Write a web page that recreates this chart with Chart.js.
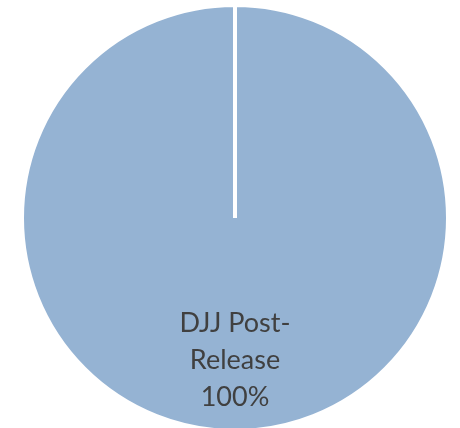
<!DOCTYPE html>
<html>
<head>
<meta charset="utf-8">
<script src="https://cdn.jsdelivr.net/npm/chart.js@4.4.0/dist/chart.umd.min.js"></script>
<style>
  html, body { margin: 0; padding: 0; background: #fff; }
  #wrap { width: 460px; height: 428px; }
</style>
</head>
<body>
<div id="wrap"><canvas id="pieChart"></canvas></div>
<script>
// dati
const categories = ["DJJ Post-Release"];
const shares = [100];
const labelLines = [["DJJ Post-", "Release", "100%"]];

// etichette dentro la fetta
const sliceLabels = {
  id: "sliceLabels",
  afterDatasetsDraw(chart) {
    const ctx = chart.ctx;
    const arcs = chart.getDatasetMeta(0).data;
    ctx.save();
    ctx.font = "27px Lato";
    ctx.fillStyle = "#404040";
    ctx.textAlign = "center";
    ctx.textBaseline = "middle";
    arcs.forEach((arc, i) => {
      const p = arc.getProps(["x", "y", "startAngle", "endAngle", "outerRadius"], true);
      const mid = (p.startAngle + p.endAngle) / 2;
      const r = p.outerRadius * 0.67;
      const cx = p.x + Math.cos(mid) * r;
      const cy = p.y + Math.sin(mid) * r;
      const lines = labelLines[i];
      const lh = 37;
      lines.forEach((t, k) => {
        ctx.fillText(t, cx, cy + (k - (lines.length - 1) / 2) * lh);
      });
    });
    ctx.restore();
  }
};

new Chart(document.getElementById("pieChart"), {
  type: "pie",
  data: {
    labels: categories,
    datasets: [{
      data: shares,
      backgroundColor: ["#95b3d3"],
      borderColor: "#ffffff",
      borderWidth: 4,
      radius: 213
    }]
  },
  options: {
    responsive: true,
    maintainAspectRatio: false,
    animation: false,
    layout: { padding: { left: 25, right: 15, top: 8, bottom: 0 } },
    plugins: {
      legend: { display: false },
      tooltip: { enabled: false }
    }
  },
  plugins: [sliceLabels]
});
</script>
</body>
</html>
